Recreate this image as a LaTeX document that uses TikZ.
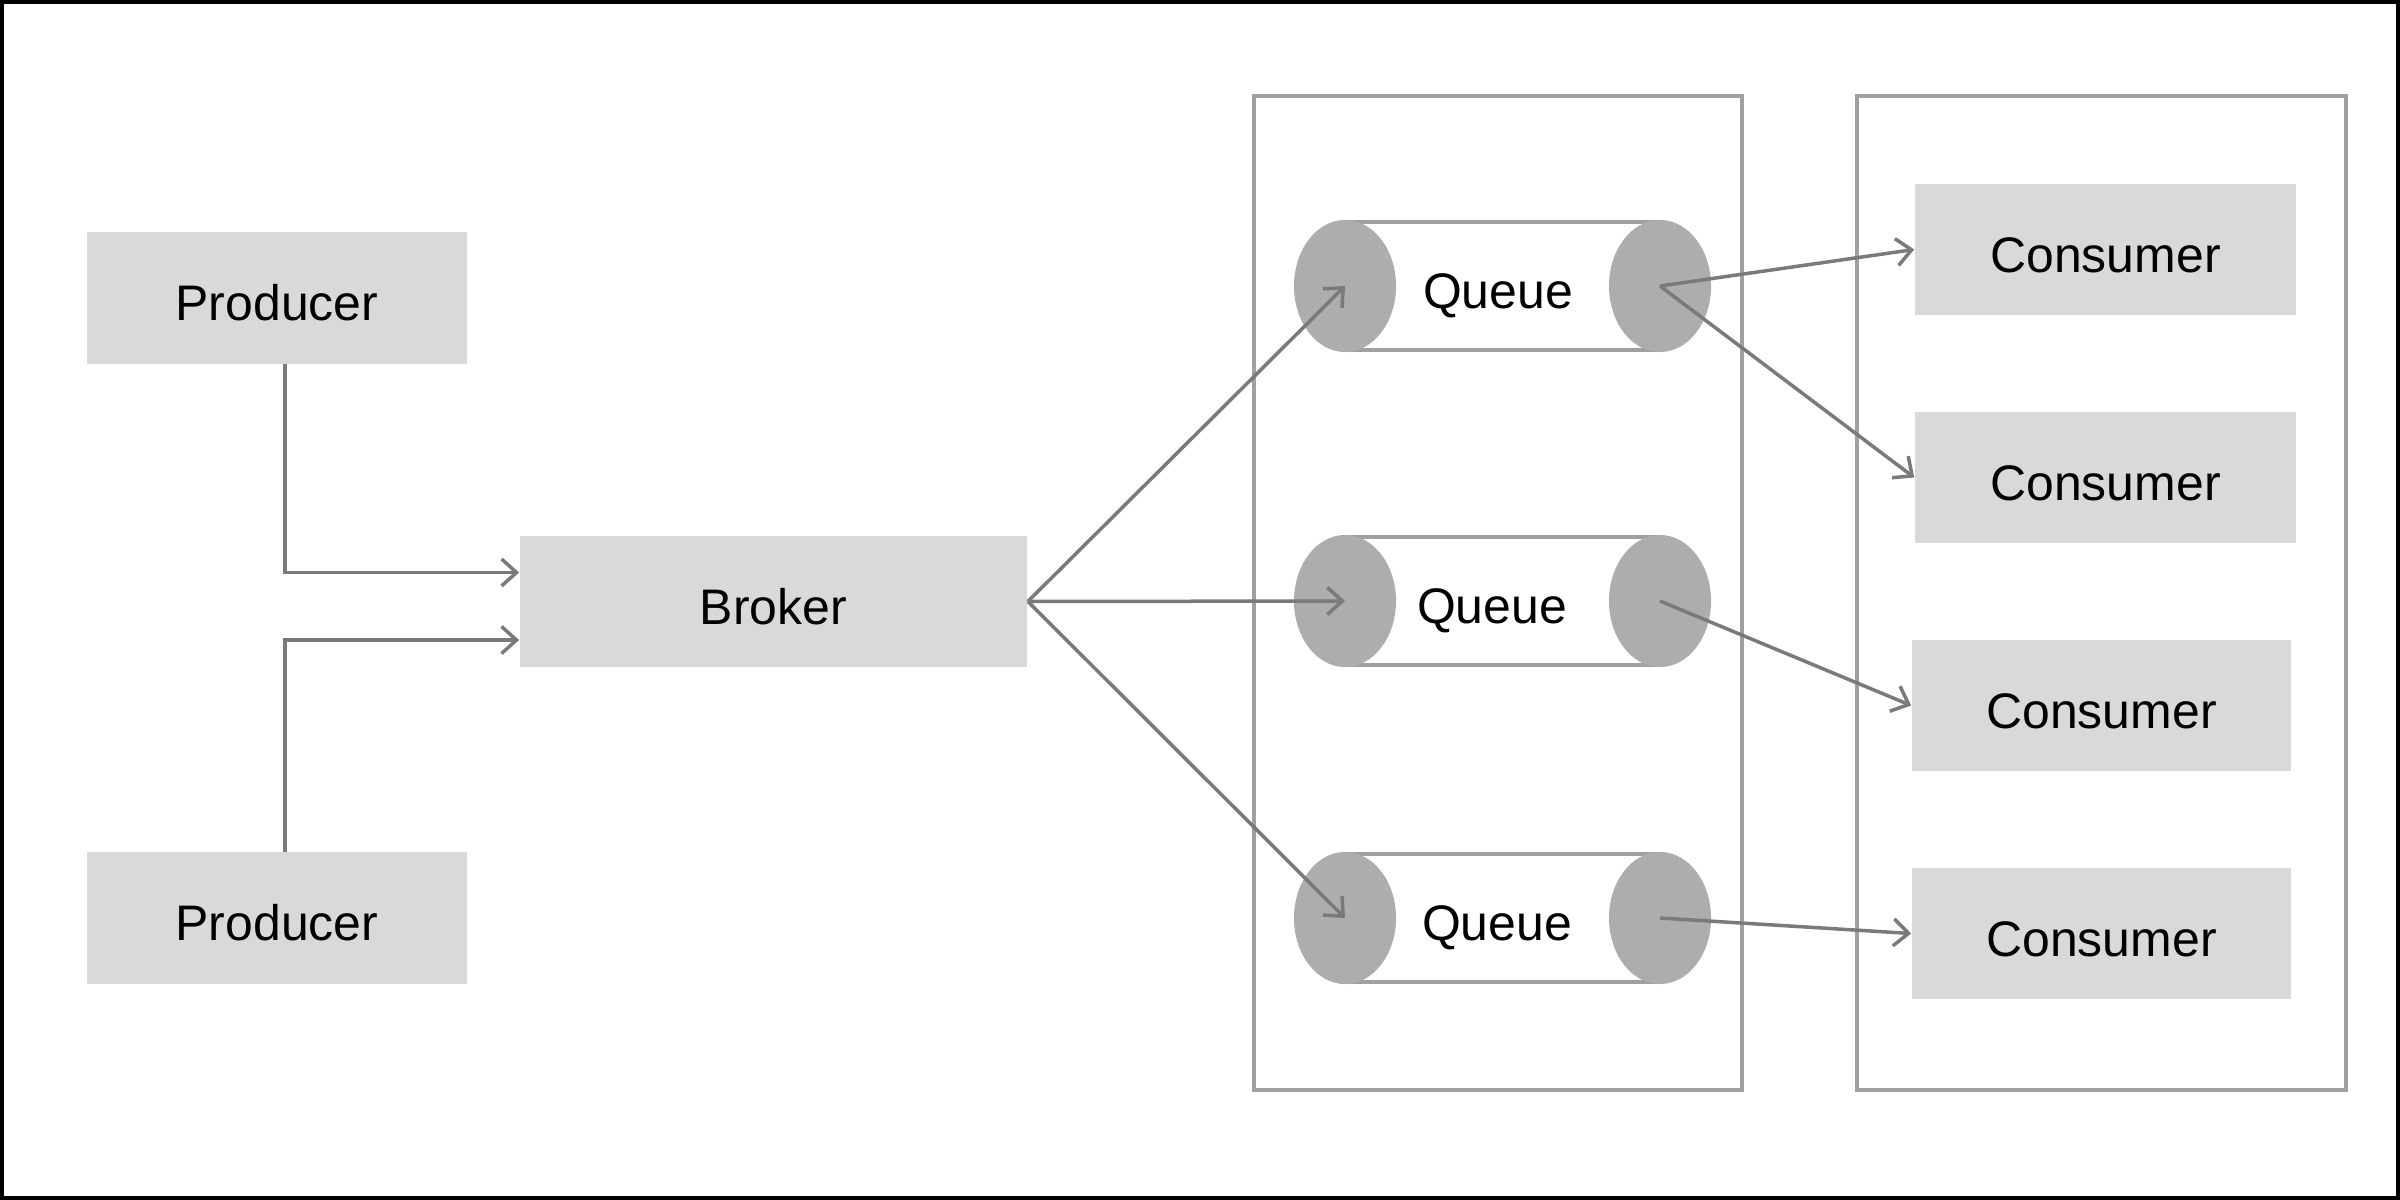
\documentclass[tikz,border=0pt]{standalone}
\usepackage{fontspec}
\setmainfont{Liberation Sans}
\usetikzlibrary{arrows.meta,positioning}

\definecolor{boxgray}{HTML}{D9D9D9}
\definecolor{capgray}{HTML}{ADADAD}
\definecolor{linegray}{HTML}{7A7A7A}
\definecolor{framegray}{HTML}{A0A0A0}

\begin{document}
\begin{tikzpicture}[x=0.01cm, y=-0.01cm,
  box/.style={fill=boxgray, inner sep=0pt, minimum width=3.8cm, minimum height=1.31cm,
    text height=0.456cm, text depth=0pt, font=\fontsize{14.2}{17}\selectfont},
  qtext/.style={inner sep=0pt, text height=0.456cm, text depth=0pt, font=\fontsize{14.2}{17}\selectfont},
  link/.style={draw=linegray, line width=0.035cm, -{Straight Barb[length=0.15cm,width=0.27cm]}},
  frame/.style={draw=framegray, line width=0.033cm}]
\useasboundingbox (0,0) rectangle (2400,1200);
\draw[line width=0.04cm] (2,2) rectangle (2398,1198);

% containers
\draw[frame] (1254,96) rectangle (1742,1090);
\draw[frame] (1857,96) rectangle (2346,1090);

% producers and broker
\node[box] (p1) at (277,298) {Producer};
\node[box] (p2) at (277,918) {Producer};
\node[box, minimum width=5.07cm] (broker) at (773.5,601.5) {Broker};

% queues
\foreach \i/\y/\tx in {1/286/1498,2/601/1492,3/918/1497}{
  \draw[frame] (1345,\y-64) -- (1660,\y-64) (1345,\y+64) -- (1660,\y+64);
  \fill[capgray] (1345,\y) ellipse[x radius=0.51cm, y radius=0.66cm];
  \fill[capgray] (1660,\y) ellipse[x radius=0.51cm, y radius=0.66cm];
  \coordinate (qin\i) at (1345,\y);
  \coordinate (qout\i) at (1660,\y);
  \node[qtext] (q\i) at (\tx,\y) {Queue};
}

% consumers
\node[box, minimum width=3.81cm] (c1) at (2105.5,249.5) {Consumer};
\node[box, minimum width=3.81cm] (c2) at (2105.5,477.5) {Consumer};
\node[box, minimum width=3.79cm] (c3) at (2101.5,705.5) {Consumer};
\node[box, minimum width=3.79cm] (c4) at (2101.5,933.5) {Consumer};

% connectors
\draw[link] ([xshift=0.08cm]p1.south) |- ([yshift=0.29cm]broker.west);
\draw[link] ([xshift=0.08cm]p2.north) |- ([yshift=-0.385cm]broker.west);
\foreach \i in {1,2,3}
  \draw[link] (broker.east) -- (qin\i);
\draw[link] (qout1) -- (c1.west);
\draw[link] (qout1) -- (c2.west);
\draw[link] (qout2) -- (c3.west);
\draw[link] (qout3) -- (c4.west);
\end{tikzpicture}
\end{document}
